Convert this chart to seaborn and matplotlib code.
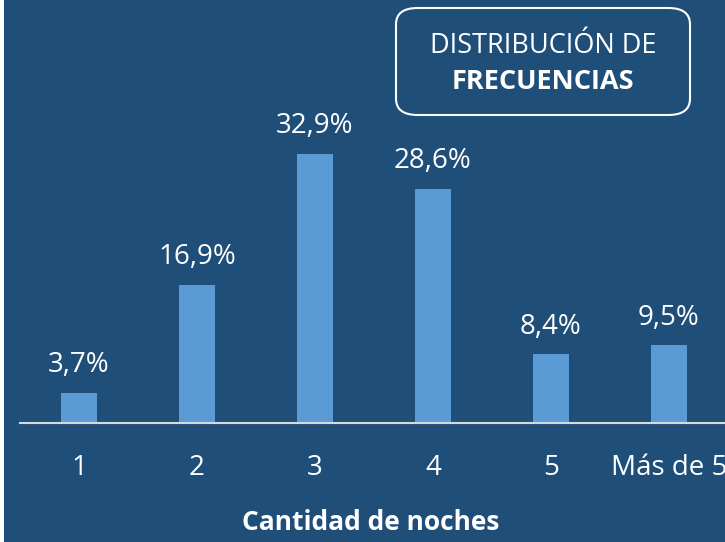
import matplotlib
matplotlib.use("Agg")
import matplotlib.pyplot as plt
import seaborn as sns
import pandas as pd
from matplotlib.patches import FancyBboxPatch, Rectangle

categories = ["1", "2", "3", "4", "5", "Más de 5"]
values = [3.7, 16.9, 32.9, 28.6, 8.4, 9.5]
value_labels = ["3,7%", "16,9%", "32,9%", "28,6%", "8,4%", "9,5%"]
xlabel = "Cantidad de noches"
box_line1 = "DISTRIBUCIÓN DE"
box_line2 = "FRECUENCIAS"

BG = "#1F4E79"
BAR = "#5B9BD5"
FONT = ["Open Sans", "DejaVu Sans"]

sns.set_style("white")
plt.rcParams["font.family"] = FONT

W, H = 725, 542
fig = plt.figure(figsize=(W / 100, H / 100), dpi=100, facecolor="white")
fig.patches.append(Rectangle((4 / W, 0), 1, 1, transform=fig.transFigure,
                             facecolor=BG, edgecolor="none", zorder=-10))

ax_left = 20 / W
ax_bottom = (H - 423) / H
ax = fig.add_axes([ax_left, ax_bottom, 1 - ax_left, 1 - ax_bottom])
ax.set_facecolor("none")

df = pd.DataFrame({"cat": categories, "val": values})
sns.barplot(data=df, x="cat", y="val", order=categories, color=BAR,
            width=0.31, saturation=1, linewidth=0, edgecolor="none", ax=ax)

ax.set_xlim(-0.5, 5.475)
ax.set_ylim(0, 423 / 8.18)

for i, (v, lab) in enumerate(zip(values, value_labels)):
    ax.annotate(lab, (i, v), xytext=(0, 20), textcoords="offset points",
                ha="center", va="center", color="white", fontsize=20)

for s in ["top", "left", "right"]:
    ax.spines[s].set_visible(False)
ax.spines["bottom"].set_color("#D9D9D9")
ax.spines["bottom"].set_linewidth(1.5)
ax.set_yticks([])
ax.tick_params(axis="x", length=0, pad=22, labelsize=20, colors="white")
ax.set_xlabel("")
ax.set_ylabel("")

fig.text(371 / W, 1 - 523 / H, xlabel, ha="center", va="center",
         color="white", fontsize=19, fontweight="bold")

box = FancyBboxPatch((396 / W, 1 - 115 / H), (690 - 396) / W, (115 - 8) / H,
                     boxstyle="round,pad=0,rounding_size=0.03",
                     transform=fig.transFigure, facecolor="none",
                     edgecolor="white", linewidth=1.5)
fig.patches.append(box)
fig.text(543 / W, 1 - 46 / H, box_line1, ha="center", va="center",
         color="white", fontsize=19.5)
fig.text(543 / W, 1 - 82 / H, box_line2, ha="center", va="center",
         color="white", fontsize=19.5, fontweight="bold")

fig.savefig("out.png", dpi=100, facecolor=fig.get_facecolor())
